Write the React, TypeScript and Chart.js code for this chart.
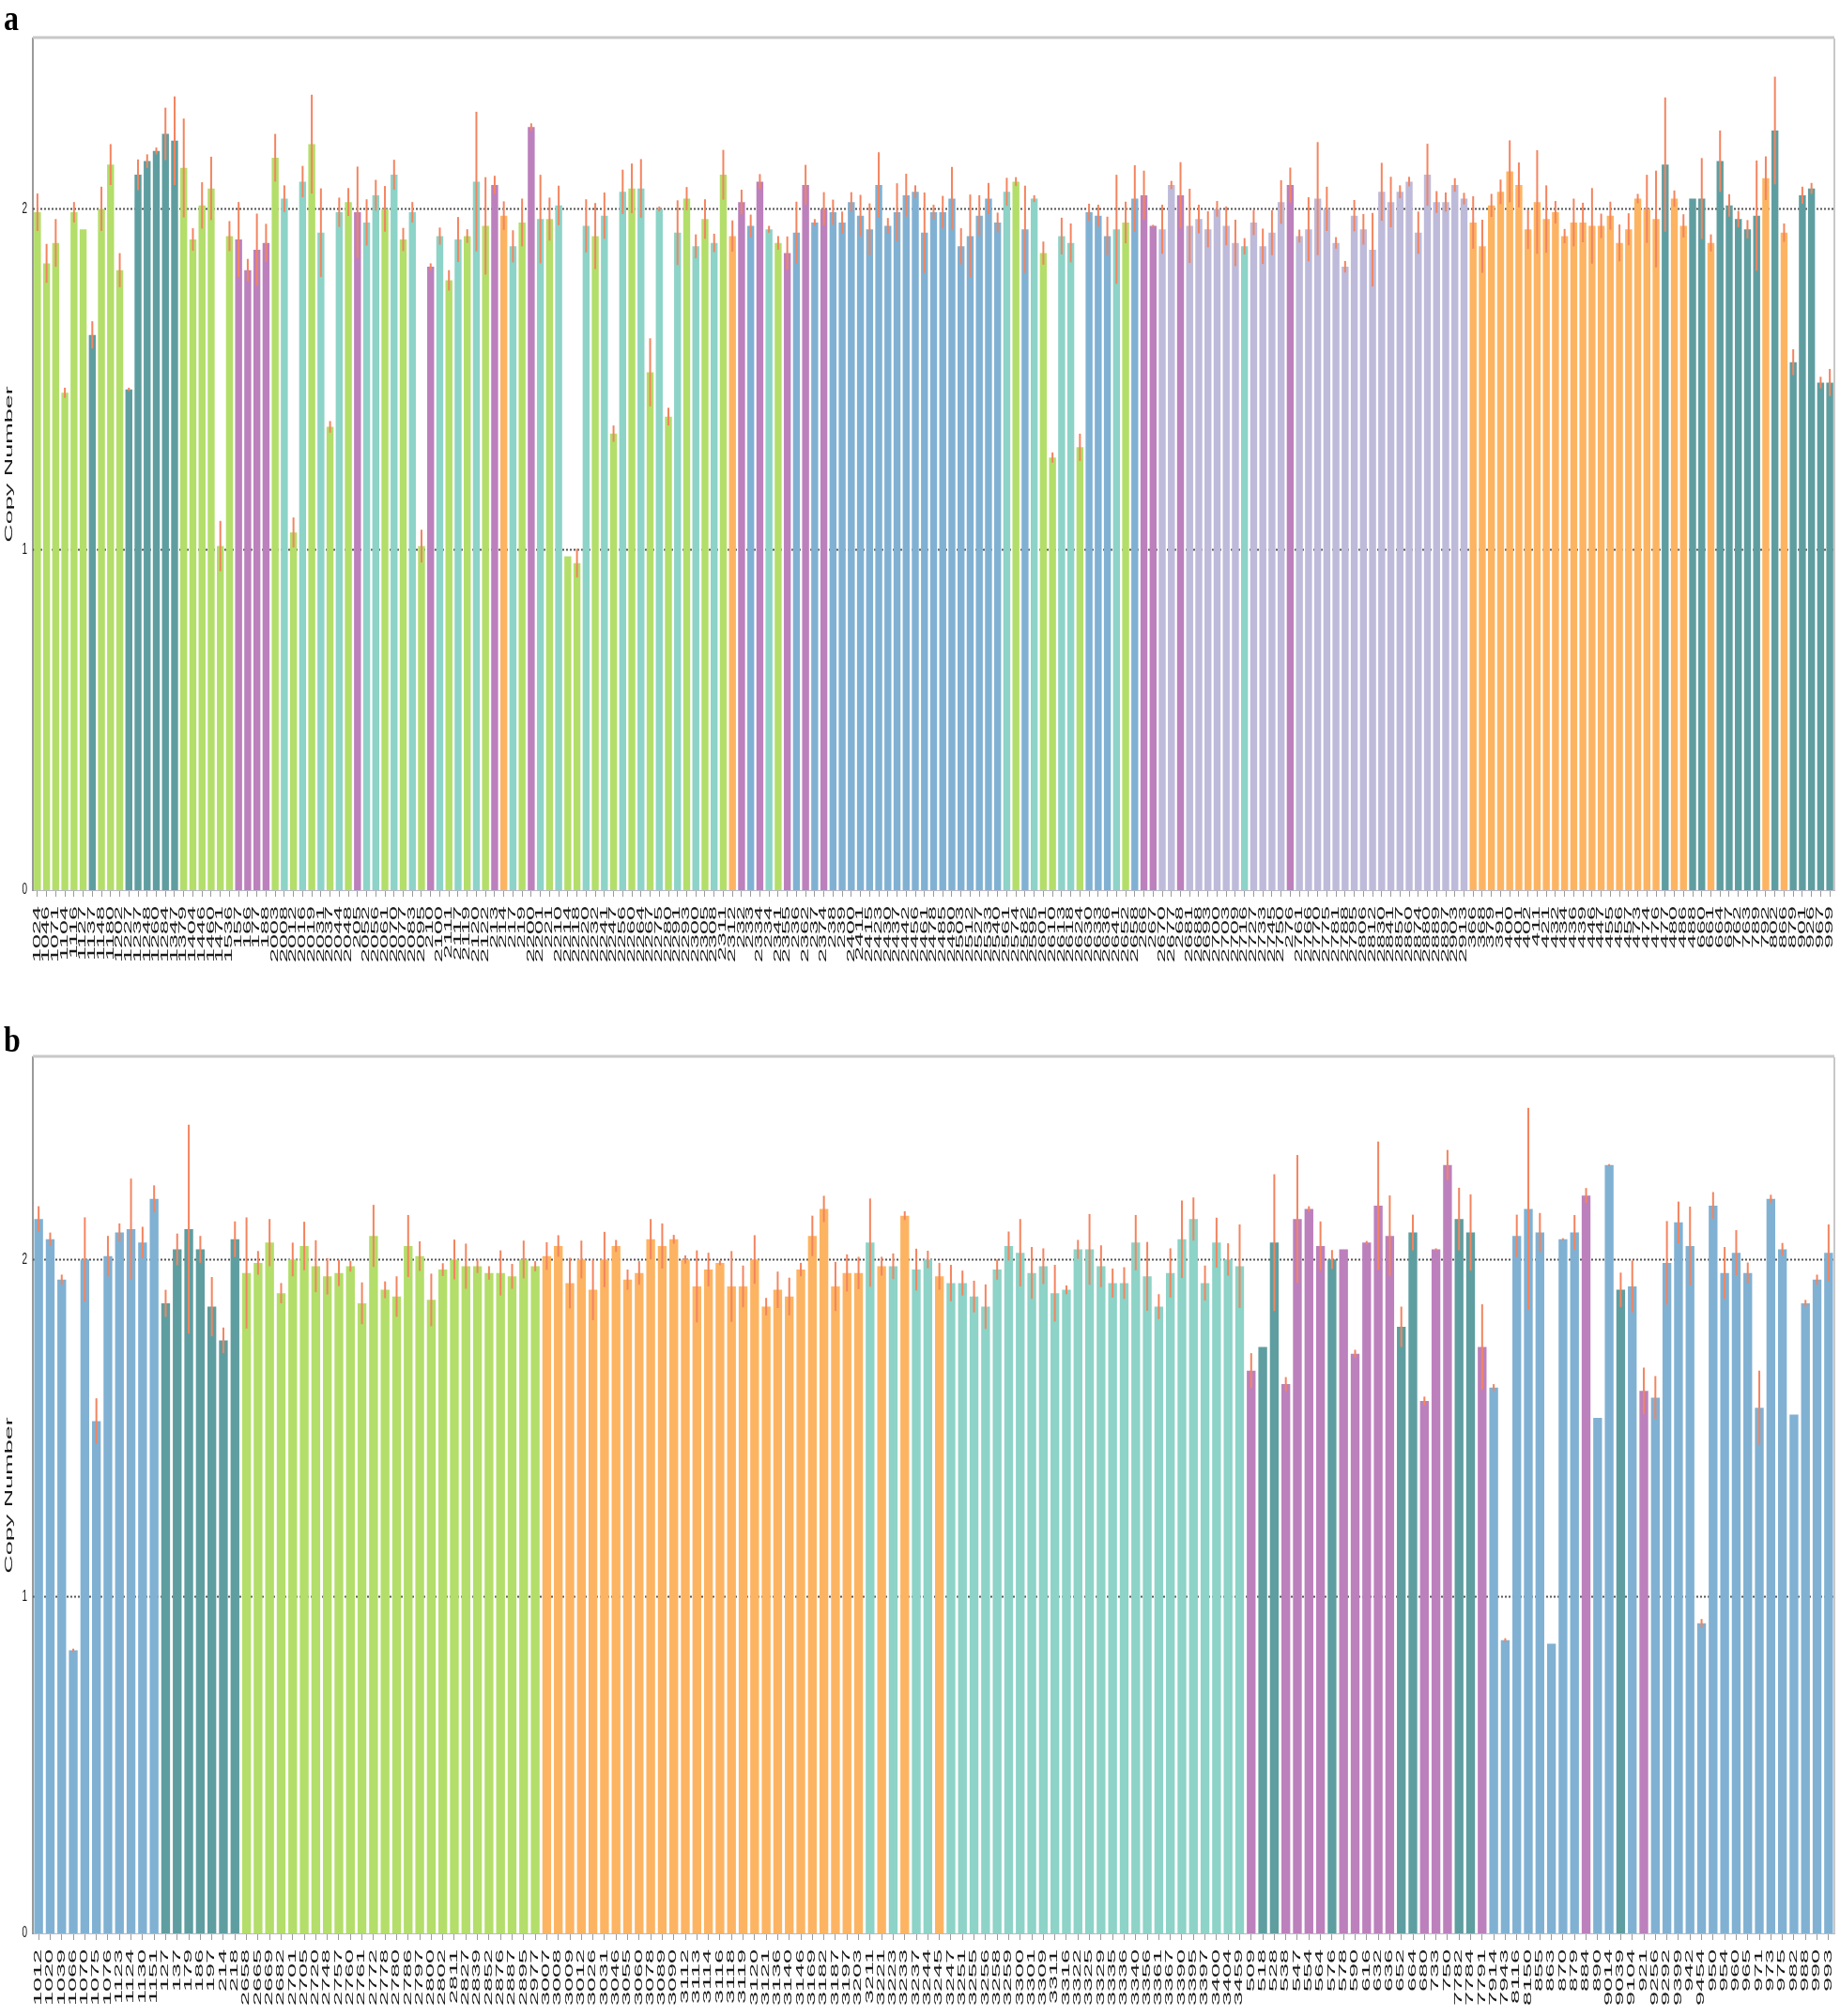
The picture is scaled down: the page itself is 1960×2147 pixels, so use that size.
import React, { useEffect, useRef } from "react";
import { Chart, registerables } from "chart.js";

Chart.register(...registerables);

// ---------- Panel a data ----------
const LABELS_A = [
  "1024","1046","1071","1104","1116","1127","1137","1148","1180","1202","1227","1237","1248","1260","1284","1347","1379","1404","1446","1460","1471","1536",
  "157","166","177","188",
  "2003","2008","2012","2016","2019","2031","2037","2044","2048",
  "205",
  "2052","2056","2061","2070","2077","2083","2095",
  "210",
  "2100","2111","2117","2119","2120","2122",
  "213","214","217","219",
  "2200","2201",
  "221",
  "2210","2214","2218","2220","2232","2241","2247","2256","2260","2264","2267","2275","2280","2291","2293","2300","2305","2308","2311","2312",
  "232","233",
  "2334",
  "234",
  "2341","2355",
  "236",
  "2362",
  "237",
  "2374",
  "238","239",
  "2400","2411","2415","2423","2430","2437","2442","2456","2461","2478","2485","2490","2503","2512","2527","2533","2540","2561","2574","2582","2595","2601","2610","2613","2618","2624","2630","2633","2636","2641","2652","2658",
  "266","267",
  "2670","2677",
  "268",
  "2681","2688","2693","2700","2703","2709","2716","2727","2733","2745","2750",
  "276",
  "2761","2766","2770","2775","2781","2788","2795","2806","2812","2830","2841","2857","2860","2874","2880","2889","2897","2903","2913",
  "366","368","379","391","400","401","402","411","421","432","434","436","439","446","447","455","456","457","473","474","476","477","480","486","488","660","661","664","697","762","763","789","792","802","866","879","901","926","967","999"
];

const VALUES_A = [
  1.99,1.84,1.90,1.46,1.99,1.94,1.63,2.00,2.13,1.82,
  1.47,2.10,2.14,2.17,2.22,2.20,2.12,1.91,2.01,2.06,
  1.01,1.92,1.91,1.82,1.88,1.90,2.15,2.03,1.05,2.08,
  2.19,1.93,1.36,1.99,2.02,1.99,1.96,2.04,2.00,2.10,
  1.91,1.99,1.01,1.83,1.92,1.79,1.91,1.92,2.08,1.95,
  2.07,1.98,1.89,1.96,2.24,1.97,1.97,2.01,0.98,0.96,
  1.95,1.92,1.98,1.34,2.05,2.06,2.06,1.52,2.00,1.39,
  1.93,2.03,1.89,1.97,1.90,2.10,1.92,2.02,1.95,2.08,
  1.94,1.90,1.87,1.93,2.07,1.96,2.00,1.99,1.96,2.02,
  1.98,1.94,2.07,1.95,1.99,2.04,2.05,1.93,1.99,1.99,
  2.03,1.89,1.92,1.98,2.03,1.96,2.05,2.08,1.94,2.03,
  1.87,1.27,1.92,1.90,1.30,1.99,1.98,1.92,1.94,1.96,
  2.03,2.04,1.95,1.94,2.07,2.04,1.95,1.97,1.94,2.00,
  1.95,1.90,1.89,1.96,1.89,1.93,2.02,2.07,1.92,1.94,
  2.03,2.00,1.90,1.83,1.98,1.94,1.88,2.05,2.02,2.05,
  2.08,1.93,2.10,2.02,2.02,2.07,2.03,1.96,1.89,2.01,
  2.05,2.11,2.07,1.94,2.02,1.97,1.99,1.92,1.96,1.96,
  1.95,1.95,1.98,1.90,1.94,2.03,2.00,1.97,2.13,2.03,
  1.95,2.03,2.03,1.90,2.14,2.01,1.97,1.94,1.98,2.09,
  2.23,1.93,1.55,2.04,2.06,1.49,1.49
];

const ERRORS_A = [
  0.055,0.057,0.07,0.015,0.03,0,0.04,0.065,0.06,0.05,
  0.005,0.045,0.02,0.01,0.077,0.13,0.145,0.033,0.068,0.093,
  0.074,0.044,0.11,0.033,0.106,0.056,0.07,0.039,0.044,0.046,
  0.145,0.13,0.017,0.043,0.041,0.134,0.068,0.045,0.067,0.044,
  0.034,0.03,0.048,0.01,0.025,0.03,0.066,0.02,0.205,0.143,
  0.027,0.042,0.047,0.07,0.011,0.13,0.063,0.058,0,0.042,
  0.078,0.097,0.068,0.024,0.065,0.073,0.086,0.1,0.007,0.026,
  0.095,0.034,0.035,0.058,0.027,0.073,0.046,0.036,0.033,0.022,
  0.01,0.02,0.049,0.091,0.059,0.01,0.049,0.037,0.032,0.029,
  0.061,0.076,0.096,0.023,0.085,0.063,0.019,0.118,0.022,0.048,
  0.093,0.053,0.122,0.06,0.046,0.029,0.041,0.013,0.128,0.01,
  0.034,0.015,0.054,0.057,0.04,0.025,0.032,0.057,0.16,0.061,
  0.098,0.072,0.003,0.072,0.012,0.097,0.109,0.042,0.053,0.023,
  0.057,0.068,0.024,0.037,0.052,0.066,0.064,0.051,0.019,0.094,
  0.166,0.065,0.017,0.017,0.046,0.045,0.108,0.085,0.074,0.019,
  0.014,0.062,0.091,0.032,0.028,0.02,0.017,0.077,0.078,0.034,
  0.036,0.091,0.066,0.058,0.152,0.099,0.033,0.021,0.07,0.058,
  0.111,0.036,0.041,0.054,0.047,0.014,0.1,0.142,0.197,0.024,
  0.034,0,0.119,0.025,0.09,0.033,0.024,0.027,0.162,0.064,
  0.158,0.027,0.038,0.025,0.016,0.017,0.04
];

const GROUPS_A =
  "GGGGGG" + "T" + "GGG" + "TTTTTT" + "GGGGGG" + "PPPP" +
  "GAGAGAGAGPAAGAGAGPAGAGAG" +
  "POAGPAGAGGAGAGAGAGAGAGAGAGOPBPAGPBPBP" +
  "BBBBBBBBBBBBBBBBBBB" +
  "AGBAGGAAGBBBAGBPPLLP" +
  "LLLLLL" + "A" + "LLLL" + "P" +
  "LLLLLLLLLLLLLLLLLLL" +
  "OOOOOOOOOOOOOOOOOOOOO" +
  "TOOTTOTTTTTOTOTTTTT";

// ---------- Panel b data ----------
const LABELS_B = [
  "1012","1020","1039","1066","1070","1075","1076","1123","1124","1130","1151",
  "127","137","179","186","197","214","218",
  "2658","2665","2669","2682","2701","2705","2720","2748","2757","2760","2761","2772","2778","2780","2786","2797","2800","2802","2811","2827","2839","2852","2876","2887","2895","2977",
  "3007","3008","3009","3012","3026","3031","3046","3055","3060","3078","3089","3090","3112","3113","3114","3116","3118","3119","3120","3121",
  "3136","3140","3146","3169","3182","3187","3197","3203","3211","3221","3223","3233","3237","3244","3245","3247","3251","3255","3256","3258",
  "3259","3300","3301","3309","3311","3316","3322","3325","3329","3335","3336","3340","3356","3361","3367","3390","3395","3397","3400","3404","3459",
  "509","518","528","538","547","554","564","576","578","590","616","632","636","652","664","680","733","750","7782","7784","7791","7914","7943","8116","8150",
  "855","863","870","879","884","890","9014","9039","9104","921","9256","9292","9399","942","9454","950","954","960","965","971","973","975","982","988","990","993"
];

const VALUES_B = [
  2.12,2.06,1.94,0.84,2.00,1.52,2.01,2.08,2.09,2.05,
  2.18,1.87,2.03,2.09,2.03,1.86,1.76,2.06,1.96,1.99,
  2.05,1.90,2.00,2.04,1.98,1.95,1.96,1.98,1.87,2.07,
  1.91,1.89,2.04,2.01,1.88,1.97,2.00,1.98,1.98,1.96,
  1.96,1.95,2.00,1.98,2.01,2.04,1.93,2.00,1.91,2.00,
  2.04,1.94,1.96,2.06,2.04,2.06,2.00,1.92,1.97,1.99,
  1.92,1.92,2.00,1.86,1.91,1.89,1.97,2.07,2.15,1.92,
  1.96,1.96,2.05,1.98,1.98,2.13,1.97,2.00,1.95,1.93,
  1.93,1.89,1.86,1.97,2.04,2.02,1.96,1.98,1.90,1.91,
  2.03,2.03,1.98,1.93,1.93,2.05,1.95,1.86,1.96,2.06,
  2.12,1.93,2.05,2.00,1.98,1.67,1.74,2.05,1.63,2.12,
  2.15,2.04,2.00,2.03,1.72,2.05,2.16,2.07,1.80,2.08,
  1.58,2.03,2.28,2.12,2.08,1.74,1.62,0.87,2.07,2.15,
  2.08,0.86,2.06,2.08,2.19,1.53,2.28,1.91,1.92,1.61,
  1.59,1.99,2.11,2.04,0.92,2.16,1.96,2.02,1.96,1.56,
  2.18,2.03,1.54,1.87,1.94,2.02
];

const ERRORS_B = [
  0.038,0.02,0.015,0.005,0.125,0.068,0.06,0.027,0.15,0.047,
  0.04,0.04,0.047,0.31,0.04,0.088,0.038,0.053,0.165,0.035,
  0.07,0.03,0.05,0.072,0.077,0.054,0.039,0.016,0.062,0.092,
  0.025,0.06,0.092,0.044,0.078,0.019,0.059,0.067,0.02,0.02,
  0.067,0.037,0.056,0.015,0.041,0.032,0.075,0.056,0.09,0.082,
  0.018,0.03,0.035,0.06,0.067,0.013,0.012,0.107,0.05,0.007,
  0.105,0.062,0.072,0.026,0.054,0.056,0.02,0.06,0.039,0.073,
  0.055,0.048,0.131,0.028,0.038,0.013,0.062,0.026,0.04,0.054,
  0.037,0.047,0.066,0.03,0.043,0.1,0.077,0.053,0.084,0.013,
  0.028,0.105,0.062,0.043,0.047,0.082,0.102,0.037,0.073,0.115,
  0.064,0.052,0.074,0.048,0.124,0.052,0,0.203,0.021,0.19,
  0.008,0.073,0.028,0,0.012,0.005,0.19,0.12,0.06,0.053,
  0.013,0.003,0.045,0.093,0.113,0.127,0.01,0.006,0.063,0.3,
  0.058,0,0.003,0.052,0.022,0,0.003,0.051,0.077,0.069,
  0.064,0.124,0.062,0.117,0.013,0.04,0.077,0.067,0.031,0.11,
  0.012,0.019,0,0.01,0.015,0.084
];

const GROUPS_B =
  "BBBBBBBBBBB" + "TTTTTTT" +
  "GGGGGGGGGGGGGGGGGGGGGGGGGG" +
  "OOOOOOOOOOOOOOOOOOOOOOOOOOOO" +
  "AOAOAAO" +
  "AAAAAAAAAAAAAAAAAAAAAAAAAA" +
  "PTTPPPPTPPPPPTTPPPTTP" +
  "BBBBBBBBPBBTBP" +
  "BBBBBBBBBBBBBBBB";

const Y_TICKS = [0, 1, 2];
const DOTTED_LINES = [1, 2];

const PALETTE: Record<string, string> = {
  G: "#B3DE69",
  T: "#5F9EA0",
  P: "#BC80BD",
  A: "#8DD3C7",
  O: "#FDB462",
  B: "#80B1D3",
  L: "#BEBADA",
};

const W = 1960;
const TEXT_FONT = '"Liberation Sans", Arial, sans-serif';

type PanelProps = {
  labels: string[];
  values: number[];
  errors: number[];
  groups: string;
  yMax: number;
  canvasH: number;
  plotTop: number;
  plotBottom: number;
};

function makePlugin(labels: string[], errors: number[]) {
  return {
    id: "panelDecor",
    beforeDatasetsDraw(chart: any) {
      const { ctx, chartArea: ca, scales } = chart;
      const y = scales.y;
      ctx.save();
      ctx.strokeStyle = "#555555";
      ctx.lineWidth = 2;
      ctx.setLineDash([2, 2]);
      for (const v of DOTTED_LINES) {
        const py = Math.round(y.getPixelForValue(v)) + 0.5;
        ctx.beginPath();
        ctx.moveTo(ca.left, py);
        ctx.lineTo(ca.right, py);
        ctx.stroke();
      }
      ctx.restore();
    },
    afterDatasetsDraw(chart: any) {
      const { ctx, scales } = chart;
      const y = scales.y;
      const meta = chart.getDatasetMeta(0);
      const data = chart.data.datasets[0].data as number[];
      ctx.save();
      ctx.strokeStyle = "#F4845F";
      ctx.lineWidth = 2;
      meta.data.forEach((el: any, i: number) => {
        const e = errors[i];
        if (!e) return;
        const v = data[i];
        ctx.beginPath();
        ctx.moveTo(el.x, y.getPixelForValue(v - e));
        ctx.lineTo(el.x, y.getPixelForValue(v + e));
        ctx.stroke();
      });
      ctx.restore();
    },
    afterDraw(chart: any) {
      const { ctx, chartArea: ca, scales } = chart;
      const x = scales.x;
      const y = scales.y;
      ctx.save();
      // frame (top + right)
      ctx.strokeStyle = "#c8c8c8";
      ctx.lineWidth = 3;
      ctx.beginPath();
      ctx.moveTo(ca.left, ca.top - 1);
      ctx.lineTo(ca.right, ca.top - 1);
      ctx.stroke();
      ctx.lineWidth = 2;
      ctx.beginPath();
      ctx.moveTo(ca.right, ca.top);
      ctx.lineTo(ca.right, ca.bottom);
      ctx.stroke();

      // x labels (rotated, stretched along the text direction)
      ctx.fillStyle = "#1a1a1a";
      ctx.font = `10px ${TEXT_FONT}`;
      ctx.textAlign = "right";
      ctx.textBaseline = "middle";
      labels.forEach((lab, i) => {
        const px = x.getPixelForValue(i);
        ctx.save();
        ctx.translate(px, ca.bottom + 17);
        ctx.rotate(-Math.PI / 2);
        ctx.scale(2.7, 1);
        ctx.fillText(lab, 0, 0);
        ctx.restore();
      });

      // y tick labels
      ctx.font = `10px ${TEXT_FONT}`;
      ctx.textAlign = "right";
      ctx.textBaseline = "middle";
      for (const v of Y_TICKS) {
        const py = y.getPixelForValue(v);
        ctx.save();
        ctx.translate(ca.left - 6, py);
        ctx.scale(1, 1.6);
        ctx.fillText(String(v), 0, 0);
        ctx.restore();
      }

      // y title
      ctx.font = `10px ${TEXT_FONT}`;
      ctx.textAlign = "center";
      ctx.textBaseline = "middle";
      ctx.save();
      ctx.translate(10, (ca.top + ca.bottom) / 2);
      ctx.rotate(-Math.PI / 2);
      ctx.scale(2.7, 1);
      ctx.fillText("Copy Number", 0, 0);
      ctx.restore();

      ctx.restore();
    },
  };
}

function Panel({ labels, values, errors, groups, yMax, canvasH, plotTop, plotBottom }: PanelProps) {
  const ref = useRef<HTMLCanvasElement | null>(null);
  useEffect(() => {
    if (!ref.current) return;
    const colors = groups.split("").map((c) => PALETTE[c] || "#999");
    const chart = new Chart(ref.current, {
      type: "bar",
      data: {
        labels,
        datasets: [
          {
            data: values,
            backgroundColor: colors,
            borderWidth: 0,
            categoryPercentage: 1,
            barPercentage: 0.76,
          },
        ],
      },
      options: {
        animation: false,
        responsive: false,
        maintainAspectRatio: false,
        devicePixelRatio: 1,
        layout: { padding: { top: plotTop, right: 6, left: 0, bottom: 0 } },
        plugins: {
          legend: { display: false },
          tooltip: { enabled: false },
          title: { display: false },
        },
        scales: {
          x: {
            type: "category",
            grid: {
              display: true,
              drawOnChartArea: false,
              drawTicks: true,
              tickLength: 7,
              color: "#9a9a9a",
              offset: false,
            },
            border: { display: true, color: "#b8b8c8", width: 1 },
            ticks: { display: false },
            afterFit: (s: any) => {
              s.height = canvasH - plotBottom;
            },
          },
          y: {
            type: "linear",
            min: 0,
            max: yMax,
            ticks: { display: false, stepSize: 1, includeBounds: false },
            grid: { display: false },
            border: { display: true, color: "#9a9a9a", width: 2 },
            afterFit: (s: any) => {
              s.width = 35;
            },
          },
        },
      } as any,
      plugins: [makePlugin(labels, errors)],
    });
    return () => chart.destroy();
  }, []);
  return (
    <canvas
      ref={ref}
      width={W}
      height={canvasH}
      style={{ width: W, height: canvasH, display: "block" }}
    />
  );
}

const letterStyle: React.CSSProperties = {
  position: "absolute",
  left: 4,
  fontFamily: '"Liberation Serif", "Times New Roman", serif',
  fontWeight: "bold",
  fontSize: 32,
  lineHeight: "32px",
  transform: "scaleY(1.2)",
  transformOrigin: "left top",
  color: "#000",
};

export default function App() {
  return (
    <div style={{ position: "absolute", left: 0, top: 0, width: W, height: 2147, background: "#fff", overflow: "hidden" }}>
      <div style={{ position: "absolute", left: 0, top: 0 }}>
        <Panel
          labels={LABELS_A}
          values={VALUES_A}
          errors={ERRORS_A}
          groups={GROUPS_A}
          yMax={2.5}
          canvasH={1085}
          plotTop={41}
          plotBottom={948}
        />
      </div>
      <div style={{ position: "absolute", left: 0, top: 1085 }}>
        <Panel
          labels={LABELS_B}
          values={VALUES_B}
          errors={ERRORS_B}
          groups={GROUPS_B}
          yMax={2.6}
          canvasH={1062}
          plotTop={41}
          plotBottom={974}
        />
      </div>
      <div style={{ ...letterStyle, top: 0 }}>a</div>
      <div style={{ ...letterStyle, top: 1088 }}>b</div>
    </div>
  );
}
